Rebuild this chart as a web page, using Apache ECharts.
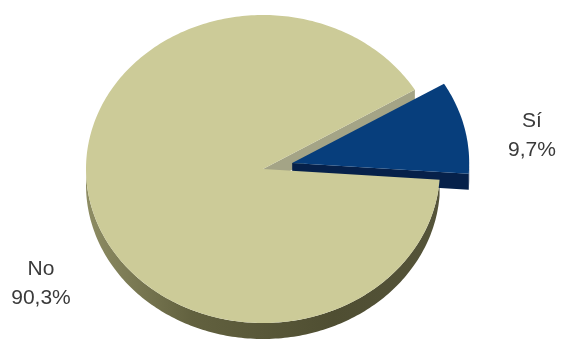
<!DOCTYPE html>
<html>
<head>
<meta charset="utf-8">
<script src="https://cdn.jsdelivr.net/npm/echarts@6/dist/echarts.min.js"></script>
<style>
  html, body { margin: 0; padding: 0; background: #ffffff; }
  #chart { width: 562px; height: 340px; }
</style>
</head>
<body>
<div id="chart"></div>
<script>
// Survey answers (percent of respondents)
const categories = ['Sí', 'No'];
const shares = [9.7, 90.3];
const exploded = [true, false];

// Tilted-disc geometry and styling
const CX = 263, CY = 169;      // centre of the top face
const RX = 177, RY = 154;      // ellipse radii of the top face
const DEPTH = 16;              // thickness of the disc
const EXPLODE = 30;            // distance a pulled-out slice travels
const START_DEG = -4;          // first slice starts here, counter-clockwise
const topColors = ['#073e7c', '#cccb98'];
const radialWallColors = ['#06214a', '#a4a486'];
const outerWallColors = [
  '#06214a',
  new echarts.graphic.LinearGradient(0, 0, 1, 0, [
    { offset: 0, color: '#8e8d64' },
    { offset: 0.3, color: '#62613f' },
    { offset: 0.7, color: '#4f4e32' },
    { offset: 1, color: '#55543a' }
  ])
];
const labelAnchors = [[532, 136], [41, 284]];
const labelFont = '21px "Liberation Sans", Arial, sans-serif';

const total = shares.reduce((a, b) => a + b, 0);
const spans = [];
let acc = START_DEG;
shares.forEach(v => {
  const a0 = acc, a1 = acc + v / total * 360;
  spans.push([a0, a1]);
  acc = a1;
});

function ellPt(deg, ox, oy, dz) {
  const t = deg * Math.PI / 180;
  return [CX + ox + RX * Math.cos(t), CY + oy - RY * Math.sin(t) + dz];
}
function arc(a0, a1, ox, oy, dz) {
  const n = Math.max(2, Math.ceil(Math.abs(a1 - a0)));
  const pts = [];
  for (let i = 0; i <= n; i++) pts.push(ellPt(a0 + (a1 - a0) * i / n, ox, oy, dz));
  return pts;
}
function fmtPct(v) {
  return v.toFixed(1).replace('.', ',') + '%';
}

function renderItem(params, api) {
  const i = params.dataIndex;
  const value = api.value(0);
  const [a0, a1] = spans[i];
  const mid = (a0 + a1) / 2 * Math.PI / 180;
  const off = exploded[i] ? EXPLODE : 0;
  const ox = off * Math.cos(mid);
  const oy = -off * Math.sin(mid) * RY / RX;
  const c = [CX + ox, CY + oy];
  const wallZ = exploded[i] ? 2 : 1;
  const topZ = exploded[i] ? 3 : 4;
  const children = [];

  // outer rim: only the front half (180°..360°) faces the viewer
  for (let k = -1; k <= 1; k++) {
    const s = Math.max(a0, 180 + 360 * k);
    const e = Math.min(a1, 360 + 360 * k);
    if (e > s) {
      const pts = arc(s, e, ox, oy, 0).concat(arc(e, s, ox, oy, DEPTH));
      children.push({
        type: 'polygon', z2: wallZ, silent: true,
        shape: { points: pts },
        style: { fill: outerWallColors[i] }
      });
    }
  }

  // cut faces along the slice edges that turn towards the viewer
  [[a0, Math.cos(a0 * Math.PI / 180) > 0], [a1, Math.cos(a1 * Math.PI / 180) < 0]].forEach(([a, visible]) => {
    if (!visible) return;
    const p = ellPt(a, ox, oy, 0);
    const pts = [c, p, [p[0], p[1] + DEPTH], [c[0], c[1] + DEPTH]];
    children.push({
      type: 'polygon', z2: wallZ, silent: true,
      shape: { points: pts },
      style: { fill: radialWallColors[i] }
    });
  });

  // top face
  children.push({
    type: 'polygon', z2: topZ,
    shape: { points: [c].concat(arc(a0, a1, ox, oy, 0)) },
    style: { fill: topColors[i] }
  });

  // category label with share
  children.push({
    type: 'text', z2: 10, silent: true,
    style: {
      text: categories[i] + '\n' + fmtPct(value),
      x: labelAnchors[i][0], y: labelAnchors[i][1],
      align: 'center', verticalAlign: 'middle',
      font: labelFont, lineHeight: 29, fill: '#3a3a3a'
    }
  });

  return { type: 'group', children };
}

const chart = echarts.init(document.getElementById('chart'), null, { renderer: 'canvas' });
chart.setOption({
  animation: false,
  backgroundColor: '#ffffff',
  series: [{
    type: 'custom',
    coordinateSystem: 'none',
    renderItem,
    data: shares.map((v, i) => ({ name: categories[i], value: [v] }))
  }]
});
</script>
</body>
</html>
